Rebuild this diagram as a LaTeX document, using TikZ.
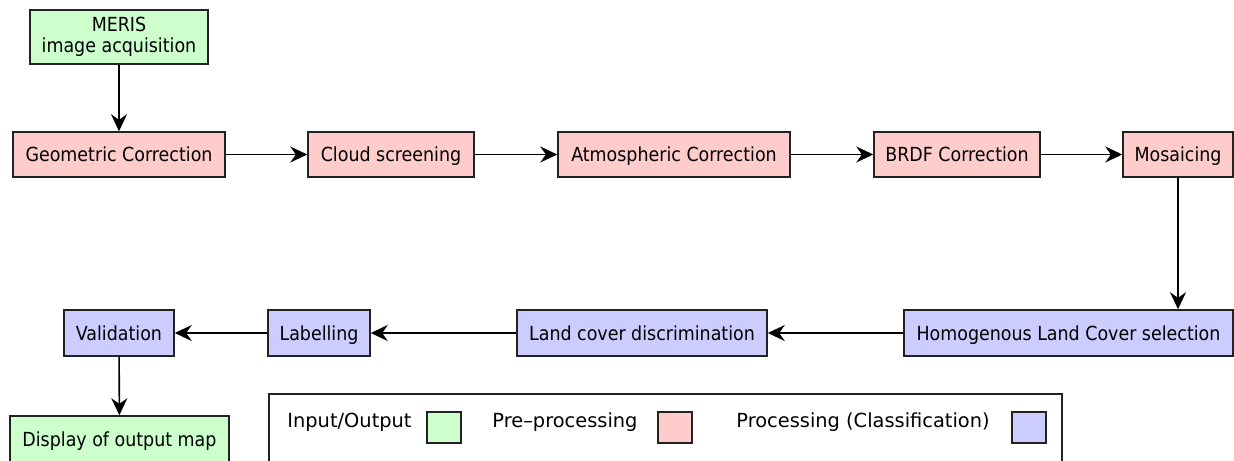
\documentclass[tikz,border=0pt]{standalone}
\usepackage{fontspec}
\setmainfont{DejaVu Sans Condensed}
\newfontfamily\keyfont{DejaVu Sans}[Ligatures=TeX]
\usetikzlibrary{arrows.meta}
\definecolor{iocol}{HTML}{CCFFCC}
\definecolor{precol}{HTML}{FFCCCC}
\definecolor{proccol}{HTML}{CCCCFF}
\definecolor{edgecol}{HTML}{222222}
\tikzset{
  box/.style={draw=edgecol, line width=0.75pt, inner sep=0pt, align=center,
    font=\fontsize{9.7}{10.5}\selectfont},
  oneline/.style={text height=9.3pt, text depth=2.2pt},
  iobox/.style={box, fill=iocol},
  prebox/.style={box, oneline, fill=precol},
  procbox/.style={box, oneline, fill=proccol},
  flow/.style={line width=0.8pt, -{Stealth[length=8.5pt, width=8pt, inset=2.8pt]}},
  keytext/.style={font=\keyfont\fontsize{9.7}{11.5}\selectfont, inner sep=0pt, anchor=base west},
  keybox/.style={draw=edgecol, line width=0.75pt, minimum width=17pt, minimum height=15.5pt, inner sep=0pt},
}
\begin{document}
\begin{tikzpicture}[x=0.5pt, y=-0.5pt]
\useasboundingbox (0,0) rectangle (1234,460);

% input
\node[iobox, minimum width=89pt, minimum height=27pt] (meris) at (119,37) {MERIS\\image acquisition};

% pre-processing chain
\node[prebox, minimum width=106pt, minimum height=22.5pt] (geo) at (119,154.5) {Geometric Correction};
\node[prebox, minimum width=83pt, minimum height=22.5pt] (cloud) at (391,154.5) {Cloud screening};
\node[prebox, minimum width=116pt, minimum height=22.5pt] (atmos) at (674,154.5) {Atmospheric Correction};
\node[prebox, minimum width=83pt, minimum height=22.5pt] (brdf) at (957,154.5) {BRDF Correction};
\node[prebox, minimum width=55pt, minimum height=22.5pt] (mosaic) at (1178,154.5) {Mosaicing};

% classification chain
\node[procbox, minimum width=164.5pt, minimum height=23pt] (homog) at (1068.5,333) {Homogenous Land Cover selection};
\node[procbox, minimum width=125pt, minimum height=23pt] (landcov) at (642,333) {Land cover discrimination};
\node[procbox, minimum width=51pt, minimum height=23pt] (label) at (319,333) {Labelling};
\node[procbox, minimum width=55pt, minimum height=23pt] (valid) at (119,333) {Validation};

% output
\node[iobox, oneline, minimum width=109.5pt, minimum height=23pt] (display) at (119.5,439) {Display of output map};

% connectors
\draw[flow] (meris) -- (geo);
\draw[flow] (geo) -- (cloud);
\draw[flow] (cloud) -- (atmos);
\draw[flow] (atmos) -- (brdf);
\draw[flow] (brdf) -- (mosaic);
\draw[flow] (mosaic.south) -- (mosaic.south |- homog.north);
\draw[flow] (homog) -- (landcov);
\draw[flow] (landcov) -- (label);
\draw[flow] (label) -- (valid);
\draw[flow] (valid) -- (display);

% legend
\node[draw=edgecol, line width=0.75pt, minimum width=396.5pt, minimum height=36pt, inner sep=0pt] (legend) at (665.5,430) {};
\node[keytext] (kio) at (287,427) {Input/Output};
\node[keybox, fill=iocol] (sio) at (444,427.5) {};
\node[keytext] (kpre) at (492,427) {Pre--processing};
\node[keybox, fill=precol] (spre) at (675,427.5) {};
\node[keytext] (kproc) at (736,427) {Processing (Classification)};
\node[keybox, fill=proccol] (sproc) at (1029,427.5) {};
\end{tikzpicture}
\end{document}
